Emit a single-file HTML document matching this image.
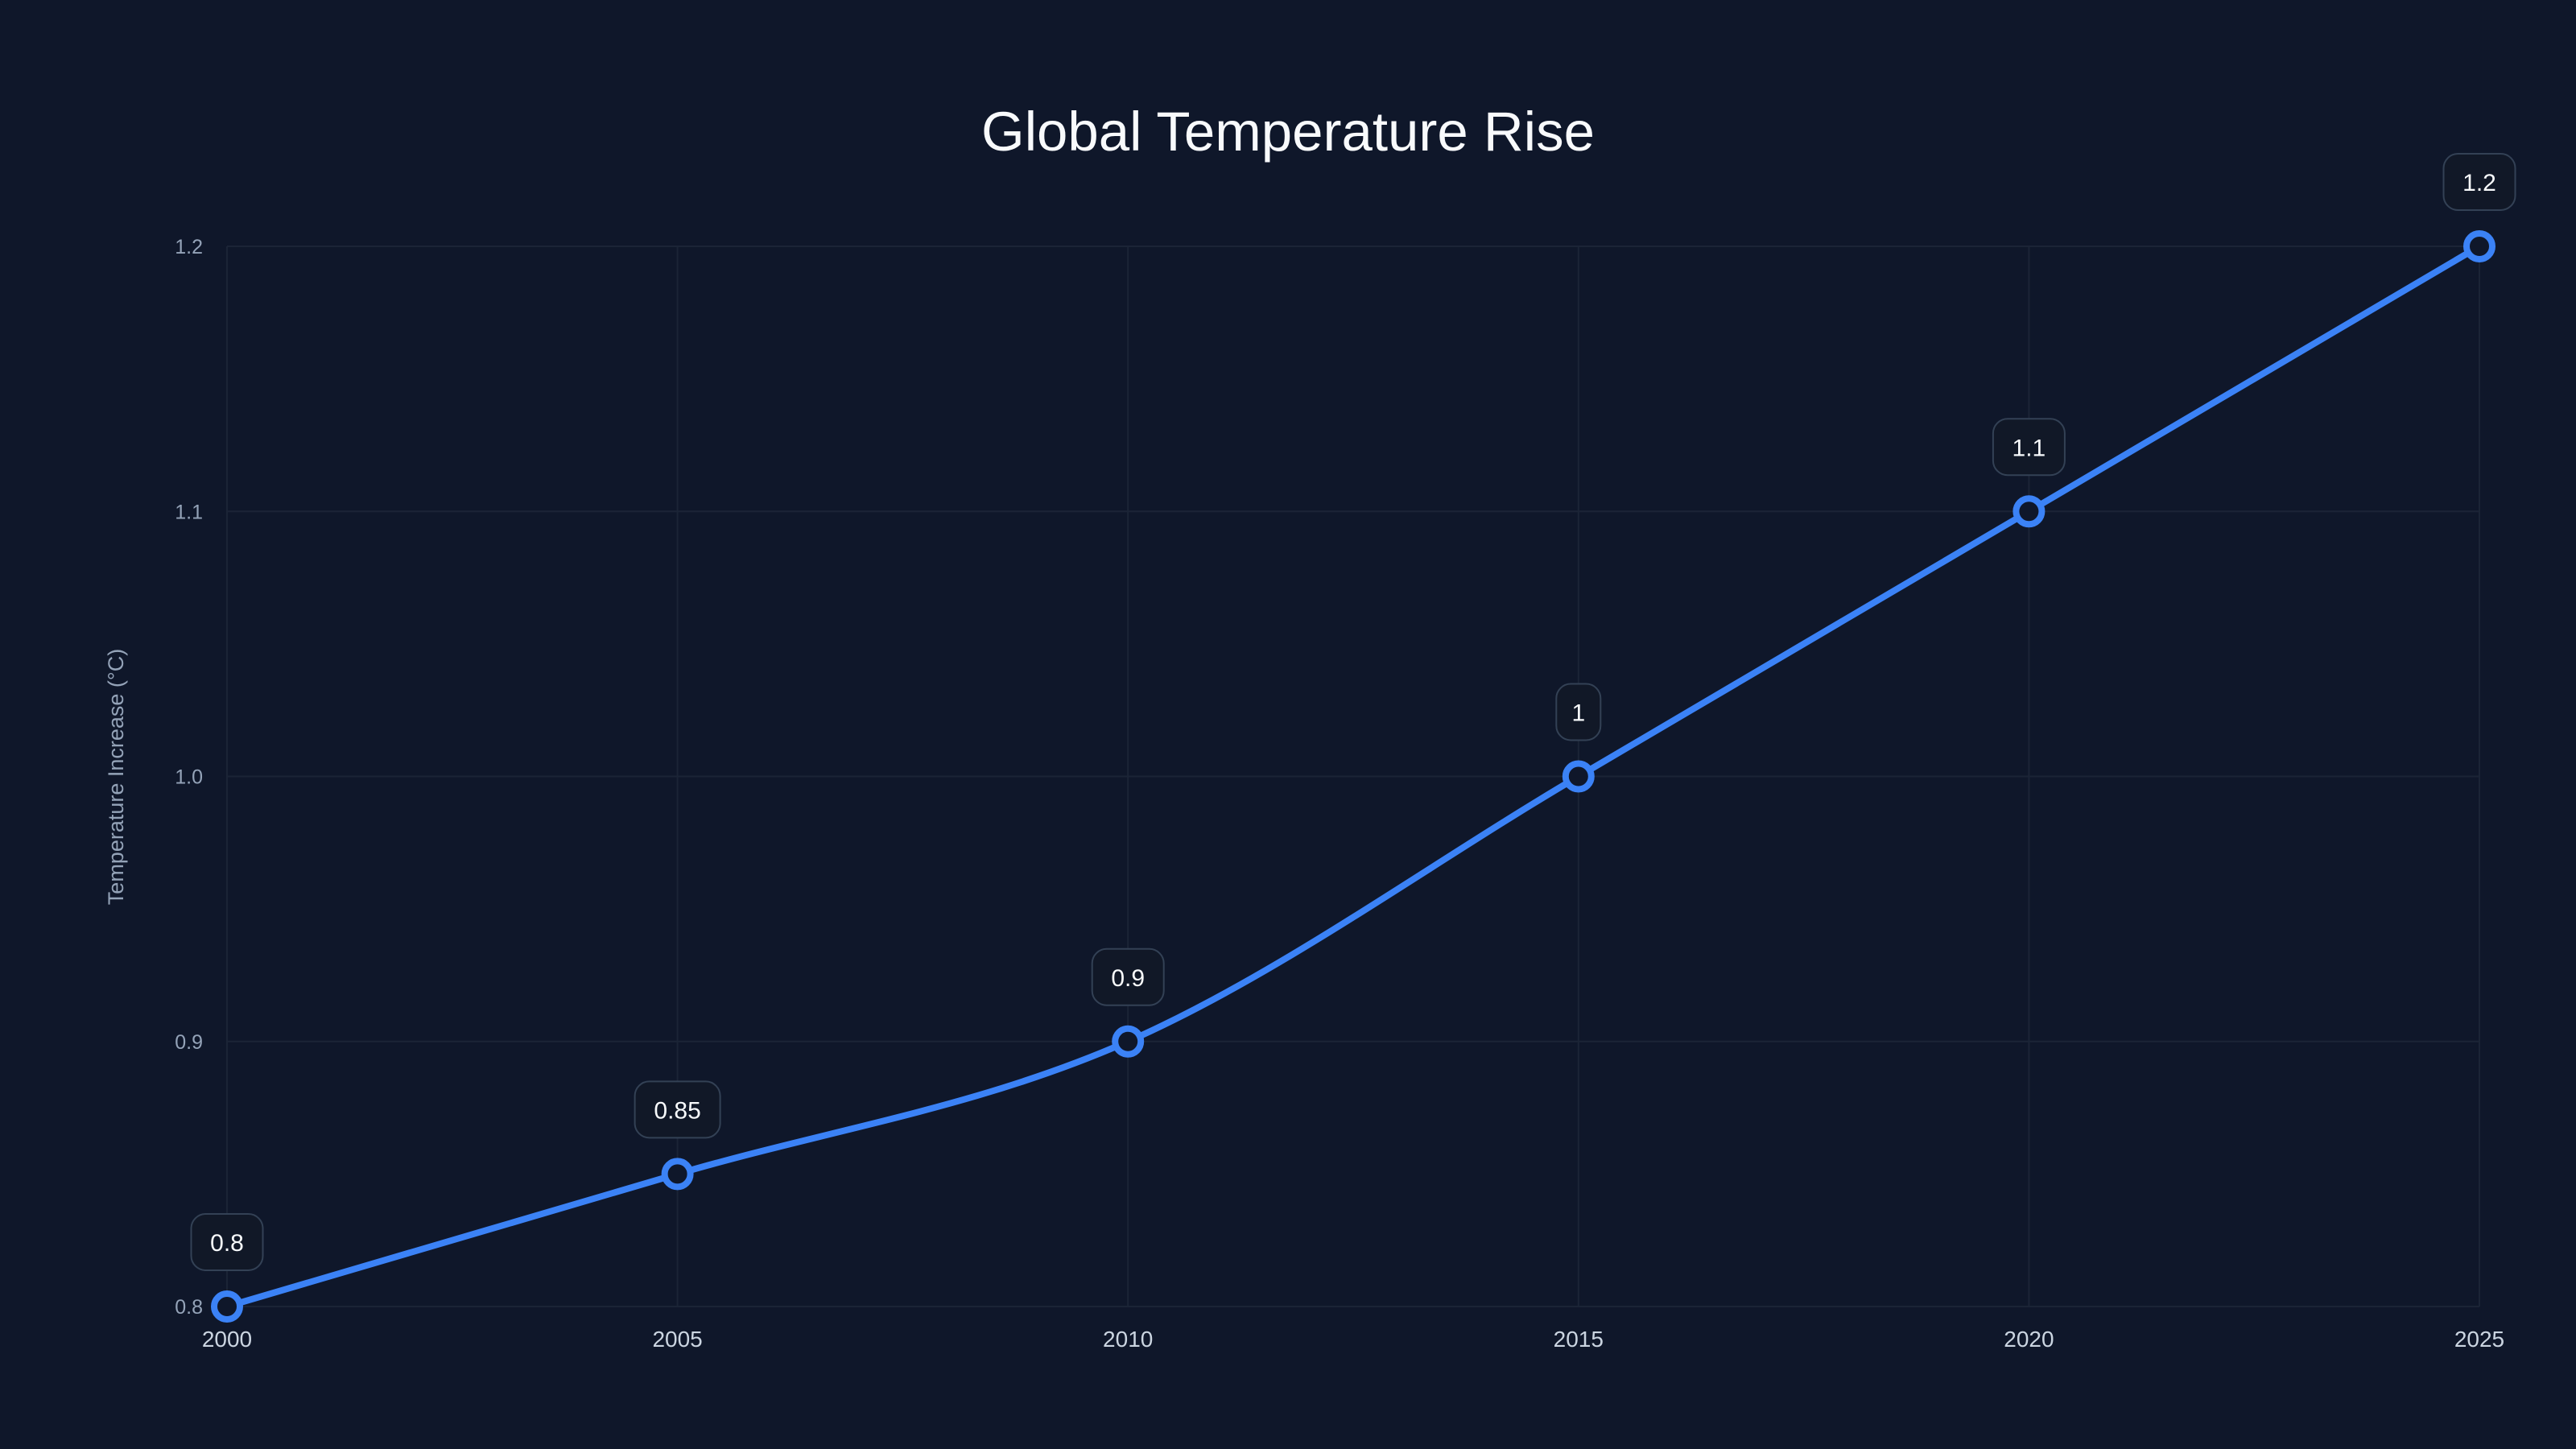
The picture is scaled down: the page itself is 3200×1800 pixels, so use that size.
<!DOCTYPE html>
<html><head><meta charset="utf-8">
<style>
html,body{margin:0;padding:0;background:#0f172a;}
svg{display:block;font-family:"Liberation Sans",sans-serif;}
</style></head>
<body>
<svg id="chart" width="3200" height="1800" viewBox="0 0 3200 1800">
<rect width="3200" height="1800" fill="#0f172a"/>
<text x="1600" y="187" text-anchor="middle" font-size="69" fill="#f8fafc">Global Temperature Rise</text>
<text transform="translate(153,965) rotate(-90)" text-anchor="middle" font-size="27" fill="#94a3b8">Temperature Increase (°C)</text>
<g id="grid"></g><g id="axes"></g><g id="series"></g><g id="labels"></g>
</svg>
<script>
const years = [2000, 2005, 2010, 2015, 2020, 2025];
const temps = [0.8, 0.85, 0.9, 1.0, 1.1, 1.2];
const yTicks = [0.8, 0.9, 1.0, 1.1, 1.2];
const yTickLabels = ["0.8", "0.9", "1.0", "1.1", "1.2"];
const valueLabels = ["0.8", "0.85", "0.9", "1", "1.1", "1.2"];

const NS = "http://www.w3.org/2000/svg";
const L = 282, R = 3080, T = 306, B = 1623;
const x = v => L + (v - 2000) / 25 * (R - L);
const y = v => B - (v - 0.8) / 0.4 * (B - T);
function mk(tag, attrs, parent) {
  const e = document.createElementNS(NS, tag);
  for (const k in attrs) e.setAttribute(k, attrs[k]);
  document.getElementById(parent).appendChild(e);
  return e;
}
yTicks.forEach((t, i) => {
  const g = mk("line", {x1: L, x2: R, y1: y(t), y2: y(t), stroke: "#1b2436", "stroke-width": 2}, "grid");
  
  
  const lb = mk("text", {x: L - 30, y: y(t) + 9, "text-anchor": "end", "font-size": 25, fill: "#94a3b8"}, "axes");
  lb.textContent = yTickLabels[i];
  
  
});
years.forEach(yr => {
  const g = mk("line", {x1: x(yr), x2: x(yr), y1: T, y2: B, stroke: "#1b2436", "stroke-width": 2}, "grid");
  
  
  const lb = mk("text", {x: x(yr), y: 1673, "text-anchor": "middle", "font-size": 28, fill: "#cbd5e1"}, "axes");
  lb.textContent = String(yr);
  
  
});
// monotone X curve
const px = years.map(x), py = temps.map(y), n = px.length;
const d = [], m = [];
for (let i = 0; i < n - 1; i++) d.push((py[i+1]-py[i])/(px[i+1]-px[i]));
for (let i = 0; i < n; i++) {
  if (i === 0) m.push(d[0]);
  else if (i === n-1) m.push(d[n-2]);
  else {
    const h0 = px[i]-px[i-1], h1 = px[i+1]-px[i];
    const s0 = d[i-1], s1 = d[i];
    const p = (s0*h1 + s1*h0)/(h0+h1);
    m.push((Math.sign(s0)+Math.sign(s1)) * Math.min(Math.abs(s0), Math.abs(s1), 0.5*Math.abs(p)) || 0);
  }
}
m[0] = (3*d[0] - m[1]) / 2; m[n-1] = (3*d[n-2] - m[n-2]) / 2;
let path = `M${px[0]},${py[0]}`;
for (let i = 0; i < n - 1; i++) {
  const h = (px[i+1]-px[i])/3;
  path += ` C${px[i]+h},${py[i]+h*m[i]} ${px[i+1]-h},${py[i+1]-h*m[i+1]} ${px[i+1]},${py[i+1]}`;
}
const line = mk("path", {d: path, fill: "none", stroke: "#3b82f6", "stroke-width": 8, "stroke-linejoin": "round"}, "series");


years.forEach((yr, i) => {
  const c = mk("circle", {cx: x(yr), cy: y(temps[i]), r: 16, fill: "#0f172a", stroke: "#3b82f6", "stroke-width": 8}, "series");
  
  
  const w = valueLabels[i].length * 17 + 38;
  const bx = mk("rect", {x: x(yr) - w/2, y: y(temps[i]) - 115, width: w, height: 70, rx: 18, fill: "#111827", stroke: "#334155", "stroke-width": 2}, "labels");
  
  
  const t = mk("text", {x: x(yr), y: y(temps[i]) - 69, "text-anchor": "middle", "font-size": 30, fill: "#f8fafc"}, "labels");
  t.textContent = valueLabels[i];
  
  
});
</script>
</body></html>
